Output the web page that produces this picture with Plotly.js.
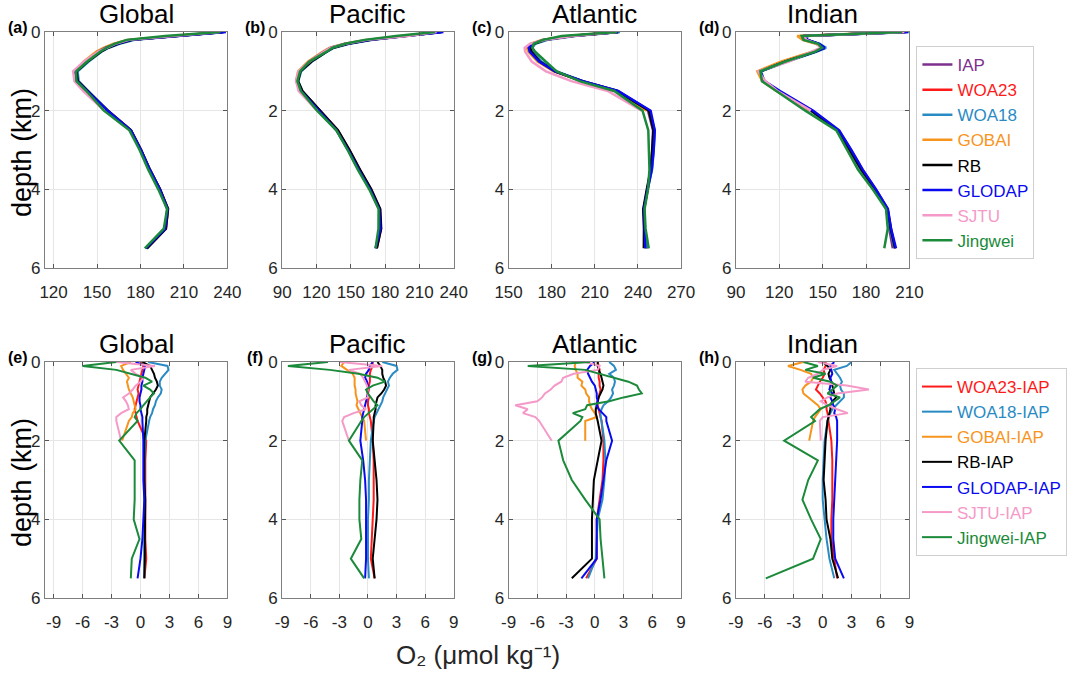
<!DOCTYPE html>
<html><head><meta charset="utf-8">
<script src="https://cdn.plot.ly/plotly-3.0.1.min.js"></script>
<style>html,body{margin:0;padding:0;background:#fff}#chart{width:1067px;height:675px}</style>
</head><body><div id="chart"></div>
<script>
const W = 1067, H = 675;
const FONT = 'Arial, "Liberation Sans", Helvetica, sans-serif';
const px = x => x / W, py = y => 1 - y / H;

const oceans = ['Global', 'Pacific', 'Atlantic', 'Indian'];
const letters = ['(a)', '(b)', '(c)', '(d)', '(e)', '(f)', '(g)', '(h)'];
const products = ['IAP', 'WOA23', 'WOA18', 'GOBAI', 'RB', 'GLODAP', 'SJTU', 'Jingwei'];
const colors = ['#7E2F8E', '#FF1A1A', '#2A8BC4', '#F7941D', '#000000', '#0A0AF0', '#F59AC8', '#1B8A3A'];

// depth levels (km)
const depthTop = [0, 0.1, 0.2, 0.3, 0.4, 0.5, 0.75, 1.0, 1.25, 1.5, 2.0, 2.5, 3.0, 3.5, 4.0, 4.5, 5.0, 5.5];
const depthDiff = [0, 0.1, 0.2, 0.3, 0.4, 0.5, 0.6, 0.7, 0.8, 0.9, 1.0, 1.1, 1.2, 1.3, 1.4, 1.5, 2.0, 2.5, 3.0, 3.5, 4.0, 4.5, 5.0, 5.5];

// ---- O2 profiles (umol/kg), top row ----
const gloIAP = [237, 203, 173, 163, 156, 151, 142, 135, 136, 143, 157, 173, 180, 186, 193, 198.5, 197, 184];
const gloWOA23 = [237, 203.3, 173.2, 163.1, 156, 150.9, 141.8, 134.6, 135.5, 142.7, 157.6, 173.5, 180.5, 186.5, 193.5, 199, 197.6, 184.4];
const gloWOA18 = [237.8, 205.8, 175.9, 165.5, 158.2, 153, 144.2, 136.6, 137.3, 143.9, 157.5, 173.4, 180.4, 186.4, 193.4, 198.9, 197.4, 184.4];
const gloGOBAI = [236, 201, 171.2, 161.5, 154.8, 149.6, 140.9, 134.3, 135.4, 141.8, 155.1];
const gloRB = [237.2, 204, 174.2, 164.4, 157.5, 152.7, 143.5, 135.9, 136.7, 143.6, 157.4, 173.4, 180.4, 186.5, 193.5, 199, 197.5, 184.4];
const gloGLODAP = [239, 203.5, 173.4, 163.3, 156.2, 151.2, 142, 134.9, 136, 143.2, 157.3, 173.3, 180.3, 186.4, 193.3, 198.7, 197, 183.7];
const gloSJTU = [234.5, 204.5, 172, 162.5, 156.3, 151, 141, 133.5, 134.4, 140.5, 155];
const gloJingwei = [235.2, 197, 170.5, 162, 156.5, 152.2, 143.2, 135.6, 135.8, 142.7, 154.8, 172.4, 179.4, 185.4, 192.3, 198.4, 196.1, 183];

const pacIAP = [228, 198, 166, 146, 133, 127, 114, 105, 103, 107, 122.5, 138, 148, 157, 167, 175, 176, 172];
const pacWOA23 = [228.5, 198.5, 166.3, 146.2, 133.2, 127.2, 114, 105, 103.1, 107.3, 123, 138.6, 148.6, 157.6, 167.5, 175.4, 176.3, 172.7];
const pacWOA18 = [229.5, 201, 169.1, 148.6, 135.3, 129.1, 115.9, 106.5, 104, 107.6, 122.8, 138.2, 148.1, 157.1, 167, 175, 176, 172.1];
const pacGOBAI = [225.5, 195.2, 163.8, 144.4, 131.6, 125.6, 112.7, 103.9, 102.1, 106.6, 122.3];
const pacRB = [229, 199.3, 167.5, 147.5, 134.6, 128.8, 115.6, 105.9, 103.8, 107.6, 123, 138.7, 148.9, 158, 167.9, 175.7, 176.5, 172.7];
const pacGLODAP = [231, 198.2, 166.1, 145.8, 132.7, 126.9, 114, 104.8, 102.6, 106.4, 121.7, 137.5, 147.7, 156.8, 166.8, 174.8, 175.8, 171.7];
const pacSJTU = [225, 199.5, 164, 145.2, 132.5, 126.7, 114, 104.1, 102.2, 104.3, 120.5];
const pacJingwei = [223.8, 189.6, 162, 145, 134, 128.8, 113.9, 105.6, 103.3, 106.3, 120.5, 137.4, 147.2, 156.1, 166.1, 174.3, 174.2, 171.6];

const atlIAP = [226, 194, 175, 167, 164.5, 165, 171, 182, 201, 225, 247, 250.5, 250, 249, 246.5, 244, 244.5, 246.5];
const atlWOA23 = [226.3, 194.4, 175.5, 167.4, 164.9, 165.5, 171.6, 182.3, 201.5, 225.7, 247.9, 251.4, 250.8, 249.5, 246.7, 244.2, 244.7, 245.6];
const atlWOA18 = [227.5, 196, 177.2, 168.5, 166.5, 167.1, 172.9, 183.4, 201.7, 225.7, 248, 251.6, 251, 249.8, 246.8, 244.2, 244.6, 245.8];
const atlGOBAI = [224, 191.9, 173, 165.2, 162.7, 163.7, 170.1, 181.4, 200.9, 224, 246];
const atlRB = [226.3, 194.3, 175.4, 167.6, 165.2, 165.8, 171.7, 182.3, 201.1, 225.3, 247.7, 250.8, 249.9, 248.8, 246.2, 243.7, 244.2, 244.1];
const atlGLODAP = [226, 193.5, 174.2, 166.3, 164, 164.7, 171.2, 182.3, 201.6, 226.2, 248.8, 251.7, 250.9, 249.6, 246.7, 244.2, 244.7, 245.1];
const atlSJTU = [225, 194.5, 175.3, 164.8, 161.2, 161.5, 166.1, 176, 193.7, 219, 242.5];
const atlJingwei = [225.5, 187, 174, 167.5, 166.5, 168.5, 175.8, 183.5, 199.4, 223.5, 243.2, 247.2, 247.6, 248, 247, 244.6, 245.3, 247.5];

const indIAP = [207, 136, 138.5, 146.5, 150.5, 144, 123.5, 105.7, 108.5, 119, 142, 160, 168.5, 176.5, 185.8, 194, 196, 198.5];
const indWOA23 = [207.3, 136.3, 138.6, 146.7, 150.5, 143.7, 122.9, 106, 109, 119.6, 142.9, 161, 169.5, 177.5, 186.7, 194.9, 197.2, 200];
const indWOA18 = [210, 138.5, 139.7, 148, 152.3, 146, 125.6, 107.5, 109.4, 119.5, 142.2, 160.1, 168.5, 176.5, 186, 194.4, 196.7, 199.7];
const indGOBAI = [205, 132.4, 136.2, 145.3, 149.5, 142.8, 121.5, 104.8, 108.2, 118, 140.6];
const indRB = [207, 136.5, 139.3, 147.1, 151.2, 144.9, 124.7, 106.7, 109.3, 119.5, 142.3, 160.2, 168.6, 176.8, 186.2, 194.8, 197, 200.1];
const indGLODAP = [209, 136.8, 139.4, 147.5, 151.3, 144.9, 124.4, 106.7, 109.8, 120.5, 143.5, 161.4, 169.8, 177.7, 186.9, 195.1, 197.3, 200.7];
const indSJTU = [206.5, 137.5, 138.5, 146, 149, 142.2, 126.6, 105.5, 110.4, 118.7, 141.8];
const indJingwei = [205, 135.5, 136.7, 146.8, 149.5, 144.8, 124.2, 106.9, 108, 118.2, 138, 159.5, 167, 174.4, 184.6, 193.8, 195, 192.6];

// ---- differences relative to IAP (umol/kg), bottom row ----
const gloDWOA23 = [0.0, 0.3, 0.2, 0.1, 0.0, -0.1, -0.2, -0.3, -0.2, -0.3, -0.4, -0.5, -0.6, -0.5, -0.4, -0.3, 0.6, 0.5, 0.5, 0.5, 0.5, 0.5, 0.6, 0.4];
const gloDWOA18 = [0.8, 2.8, 2.9, 2.5, 2.2, 2.0, 2.0, 2.2, 2.1, 1.8, 1.6, 1.5, 1.3, 1.2, 1.0, 0.9, 0.5, 0.4, 0.4, 0.4, 0.4, 0.4, 0.4, 0.4];
const gloDGOBAI = [-1.0, -2.0, -1.8, -1.5, -1.2, -1.4, -1.3, -1.2, -1.0, -0.8, -0.7, -0.6, -0.5, -0.8, -0.9, -1.2, -1.9];
const gloDRB = [0.2, 1.0, 1.2, 1.4, 1.5, 1.7, 1.8, 1.6, 1.3, 1.0, 0.9, 0.8, 0.7, 0.7, 0.6, 0.6, 0.4, 0.4, 0.4, 0.5, 0.45, 0.45, 0.45, 0.4];
const gloDGLODAP = [-0.5, 0.5, 0.4, 0.3, 0.2, 0.2, 0.1, 0.1, 0.0, -0.1, -0.1, 0.0, 0.0, 0.1, 0.2, 0.2, 0.3, 0.3, 0.3, 0.4, 0.3, 0.2, 0.0, -0.3];
const gloDSJTU = [-2.5, 1.5, -1.0, -0.5, 0.3, 0.0, -0.5, -0.8, -1.2, -1.8, -1.5, -1.3, -1.2, -2.0, -2.5, -2.5, -2.0];
const gloDJingwei = [-2.5, -6.0, -2.5, -1.0, 0.5, 1.2, 0.3, 1.0, 1.4, 1.0, 0.6, 0.3, 0.0, -0.4, -0.6, -0.3, -2.2, -0.6, -0.6, -0.6, -0.7, -0.1, -0.9, -1.0];

const pacDWOA23 = [0.5, 0.5, 0.3, 0.2, 0.2, 0.2, 0.1, 0.1, 0.0, 0.1, 0.0, 0.0, 0.1, 0.1, 0.2, 0.3, 0.5, 0.6, 0.6, 0.6, 0.5, 0.4, 0.3, 0.7];
const pacDWOA18 = [1.5, 3.0, 3.1, 2.6, 2.3, 2.1, 2.2, 2.0, 1.8, 1.6, 1.5, 1.3, 1.1, 0.9, 0.7, 0.6, 0.3, 0.2, 0.1, 0.1, 0.0, 0.0, 0.0, 0.1];
const pacDGOBAI = [-2.5, -2.8, -2.2, -1.6, -1.4, -1.4, -1.4, -1.3, -1.3, -1.2, -1.1, -1.2, -1.0, -0.8, -0.6, -0.4, -0.2];
const pacDRB = [1.0, 1.3, 1.5, 1.5, 1.6, 1.8, 1.9, 1.7, 1.4, 1.0, 0.9, 0.8, 0.8, 0.7, 0.6, 0.6, 0.5, 0.7, 0.9, 1.0, 0.9, 0.7, 0.5, 0.7];
const pacDGLODAP = [0.5, 0.2, 0.1, -0.2, -0.3, -0.1, 0.0, 0.0, -0.1, -0.1, -0.2, -0.3, -0.4, -0.5, -0.6, -0.6, -0.8, -0.5, -0.3, -0.2, -0.2, -0.2, -0.2, -0.3];
const pacDSJTU = [-3.0, 1.5, -2.0, -0.8, -0.5, -0.3, -0.1, 0.0, -0.1, 0.0, -0.9, -0.7, -0.2, -1.5, -2.5, -2.7, -2.0];
const pacDJingwei = [-4.2, -8.4, -4.0, -1.0, 1.0, 1.8, 0.5, -0.2, 0.0, 0.3, 0.6, 1.0, 0.5, 0.0, -0.4, -0.7, -2.0, -0.6, -0.8, -0.9, -0.9, -0.7, -1.8, -0.4];

const atlDWOA23 = [0.3, 0.4, 0.5, 0.4, 0.4, 0.5, 0.5, 0.6, 0.5, 0.4, 0.3, 0.3, 0.4, 0.5, 0.6, 0.7, 0.9, 0.9, 0.8, 0.5, 0.2, 0.2, 0.2, -0.9];
const atlDWOA18 = [1.5, 2.0, 2.2, 1.5, 2.0, 2.1, 2.0, 1.8, 1.9, 1.7, 1.4, 0.9, 0.7, 0.6, 0.6, 0.7, 1.0, 1.1, 1.0, 0.8, 0.3, 0.2, 0.1, -0.7];
const atlDGOBAI = [-2.0, -2.1, -2.0, -1.8, -1.8, -1.3, -1.4, -1.0, -0.9, -0.6, -0.6, -0.5, -0.3, 0.0, 0.2, -1.0, -1.0];
const atlDRB = [0.3, 0.3, 0.4, 0.6, 0.7, 0.8, 0.9, 0.8, 0.6, 0.4, 0.3, 0.2, 0.1, 0.1, 0.2, 0.3, 0.7, 0.3, -0.1, -0.2, -0.3, -0.3, -0.3, -2.4];
const atlDGLODAP = [0.0, -0.5, -0.8, -0.7, -0.5, -0.3, 0.0, 0.1, 0.2, 0.2, 0.3, 0.2, 0.4, 0.8, 1.2, 1.2, 1.8, 1.2, 0.9, 0.6, 0.2, 0.2, 0.2, -1.4];
const atlDSJTU = [-1.0, 0.5, 0.3, -2.2, -3.3, -3.5, -4.2, -4.6, -5.2, -5.5, -6.0, -8.3, -7.0, -7.5, -6.2, -5.8, -4.5];
const atlDJingwei = [-0.5, -7.0, -1.0, 0.5, 2.0, 3.5, 4.4, 4.6, 4.9, 3.0, 1.5, -0.8, -1.0, -2.3, -1.3, -1.5, -3.8, -3.3, -2.4, -1.0, 0.5, 0.6, 0.8, 1.0];

const indDWOA23 = [0.3, 0.3, 0.1, 0.2, 0.0, -0.3, -0.5, -0.7, -0.3, 0.0, 0.3, 0.4, 0.4, 0.5, 0.6, 0.6, 0.9, 1.0, 1.0, 1.0, 0.9, 0.9, 1.2, 1.5];
const indDWOA18 = [3.0, 2.5, 1.2, 1.5, 1.8, 2.0, 1.8, 1.9, 2.2, 2.2, 1.8, 1.4, 1.0, 0.8, 0.6, 0.5, 0.2, 0.1, 0.0, 0.0, 0.2, 0.4, 0.7, 1.2];
const indDGOBAI = [-2.0, -3.6, -2.3, -1.2, -1.0, -1.2, -1.8, -2.1, -2.0, -1.5, -0.9, -0.5, -0.2, -0.5, -0.8, -1.0, -1.4];
const indDRB = [0.0, 0.5, 0.8, 0.6, 0.7, 0.9, 1.0, 1.1, 1.2, 1.4, 1.0, 0.8, 0.8, 0.7, 0.6, 0.5, 0.3, 0.2, 0.1, 0.3, 0.4, 0.8, 1.0, 1.6];
const indDGLODAP = [1.2, 0.8, 0.9, 1.0, 0.8, 0.9, 0.8, 0.7, 1.0, 0.8, 1.0, 1.1, 1.3, 1.2, 1.4, 1.5, 1.5, 1.4, 1.3, 1.2, 1.1, 1.1, 1.3, 2.2];
const indDSJTU = [-0.5, 1.5, 0.0, -0.5, -1.5, -1.8, 2.5, 4.8, 1.5, 0.5, -0.2, 0.5, 1.5, 2.6, 0.0, -0.3, -0.2];
const indDJingwei = [-2.0, -0.5, -1.8, 0.3, -1.0, 0.8, 1.5, 1.0, 0.5, 1.8, 1.2, 0.6, -0.3, -0.7, -1.2, -0.8, -4.0, -0.5, -1.5, -2.1, -1.2, -0.2, -1.0, -5.9];

// ---- tick labels ----
const topTickVals = [[120, 150, 180, 210, 240], [90, 120, 150, 180, 210, 240], [150, 180, 210, 240, 270], [90, 120, 150, 180, 210]];
const diffTickVals = [-9, -6, -3, 0, 3, 6, 9];
const diffTickText = ['-9', '-6', '-3', '0', '3', '6', '9'];
const depthTickVals = [0, 2, 4, 6];
const topRanges = [[114, 240], [90, 240], [150, 270], [90, 210]];
const diffRanges = [[-9.9, 9], [-9, 9], [-9, 9], [-9, 9]];

const topSets = [
  [gloIAP, gloWOA23, gloWOA18, gloGOBAI, gloRB, gloGLODAP, gloSJTU, gloJingwei],
  [pacIAP, pacWOA23, pacWOA18, pacGOBAI, pacRB, pacGLODAP, pacSJTU, pacJingwei],
  [atlIAP, atlWOA23, atlWOA18, atlGOBAI, atlRB, atlGLODAP, atlSJTU, atlJingwei],
  [indIAP, indWOA23, indWOA18, indGOBAI, indRB, indGLODAP, indSJTU, indJingwei]
];
const diffSets = [
  [gloDWOA23, gloDWOA18, gloDGOBAI, gloDRB, gloDGLODAP, gloDSJTU, gloDJingwei],
  [pacDWOA23, pacDWOA18, pacDGOBAI, pacDRB, pacDGLODAP, pacDSJTU, pacDJingwei],
  [atlDWOA23, atlDWOA18, atlDGOBAI, atlDRB, atlDGLODAP, atlDSJTU, atlDJingwei],
  [indDWOA23, indDWOA18, indDGOBAI, indDRB, indDGLODAP, indDSJTU, indDJingwei]
];

// ---- layout geometry (pixels) ----
const colPx = [[45, 228], [283, 455], [510, 683], [738, 912]];
const rowPx = [[32, 268], [362, 598]];

const traces = [];
const ax = n => (n === 1 ? '' : String(n));
const colored = (t, c) => '<span style="color:' + c + '">' + t + '</span>';

for (let o = 0; o < 4; o++) {
  const nTop = o + 1, nBot = o + 5;
  topSets[o].forEach((vals, k) => {
    traces.push({
      type: 'scatter', mode: 'lines', x: vals, y: depthTop.slice(0, vals.length),
      xaxis: 'x' + ax(nTop), yaxis: 'y' + ax(nTop),
      line: {color: colors[k], width: 2.5},
      name: colored(products[k], colors[k]), legend: 'legend', legendgroup: 'T' + k,
      showlegend: o === 0, hoverinfo: 'skip'
    });
  });
  diffSets[o].forEach((vals, k) => {
    const c = colors[k + 1];
    traces.push({
      type: 'scatter', mode: 'lines', x: vals, y: depthDiff.slice(0, vals.length),
      xaxis: 'x' + ax(nBot), yaxis: 'y' + ax(nBot),
      line: {color: c, width: 2},
      name: colored(products[k + 1] + '-IAP', c), legend: 'legend2', legendgroup: 'B' + k,
      showlegend: o === 0, hoverinfo: 'skip'
    });
  });
}

const tickFont = {family: FONT, size: 17, color: '#262626'};
const baseAxis = {
  ticks: 'inside', ticklen: 4, tickcolor: '#555', showline: true, mirror: 'ticks',
  linecolor: '#7f7f7f', linewidth: 1, showgrid: true, gridcolor: '#e6e6e6', gridwidth: 1,
  zeroline: false, tickfont: tickFont, fixedrange: true
};

const legendStyle = {xanchor: 'left', yanchor: 'top', bordercolor: '#cfcfcf', borderwidth: 1,
  bgcolor: '#fff', font: {family: FONT, size: 17}, tracegroupgap: 0, itemclick: false};

const layout = {
  width: W, height: H, margin: {l: 0, r: 0, t: 0, b: 0},
  paper_bgcolor: '#fff', plot_bgcolor: '#fff', font: {family: FONT, color: '#262626'},
  showlegend: true,
  legend: Object.assign({x: px(919), y: py(46)}, legendStyle),
  legend2: Object.assign({x: px(919), y: py(368)}, legendStyle),
  annotations: []
};

for (let r = 0; r < 2; r++) {
  for (let o = 0; o < 4; o++) {
    const n = r * 4 + o + 1;
    const xd = [px(colPx[o][0]), px(colPx[o][1])];
    const yd = [py(rowPx[r][1]), py(rowPx[r][0])];
    layout['xaxis' + ax(n)] = Object.assign({}, baseAxis, {
      domain: xd, anchor: 'y' + ax(n), autorange: false,
      range: r === 0 ? topRanges[o] : diffRanges[o],
      tickmode: 'array', tickvals: r === 0 ? topTickVals[o] : diffTickVals,
      ticktext: r === 0 ? topTickVals[o].map(String) : diffTickText,
      ticklabelstandoff: 9
    });
    layout['yaxis' + ax(n)] = Object.assign({}, baseAxis, {
      domain: yd, anchor: 'x' + ax(n), autorange: false, range: [6, 0],
      tickmode: 'array', tickvals: depthTickVals, ticktext: depthTickVals.map(String)
    });
    const cx = (colPx[o][0] + colPx[o][1]) / 2;
    layout.annotations.push({
      xref: 'paper', yref: 'paper', x: px(cx), y: py(rowPx[r][0] - 1), xanchor: 'center', yanchor: 'bottom',
      text: oceans[o], showarrow: false, font: {family: FONT, size: 26, color: '#000'}
    });
    layout.annotations.push({
      xref: 'paper', yref: 'paper', x: px(colPx[o][0] - 27), y: py(rowPx[r][0] - 5), xanchor: 'center', yanchor: 'middle',
      text: '<b>' + letters[r * 4 + o] + '</b>', showarrow: false, font: {family: FONT, size: 16, color: '#000'}
    });
  }
  layout.annotations.push({
    xref: 'paper', yref: 'paper', x: px(22), y: py((rowPx[r][0] + rowPx[r][1]) / 2 + 2), xanchor: 'center', yanchor: 'middle',
    text: 'depth (km)', textangle: -90, showarrow: false, font: {family: FONT, size: 27, color: '#000'}
  });
}
layout.annotations.push({
  xref: 'paper', yref: 'paper', x: px(479), y: py(655), xanchor: 'center', yanchor: 'middle',
  text: 'O₂ (μmol kg⁻¹)', showarrow: false, font: {family: FONT, size: 26, color: '#262626'}
});

Plotly.newPlot('chart', traces, layout, {displayModeBar: false, staticPlot: true});
</script></body></html>
